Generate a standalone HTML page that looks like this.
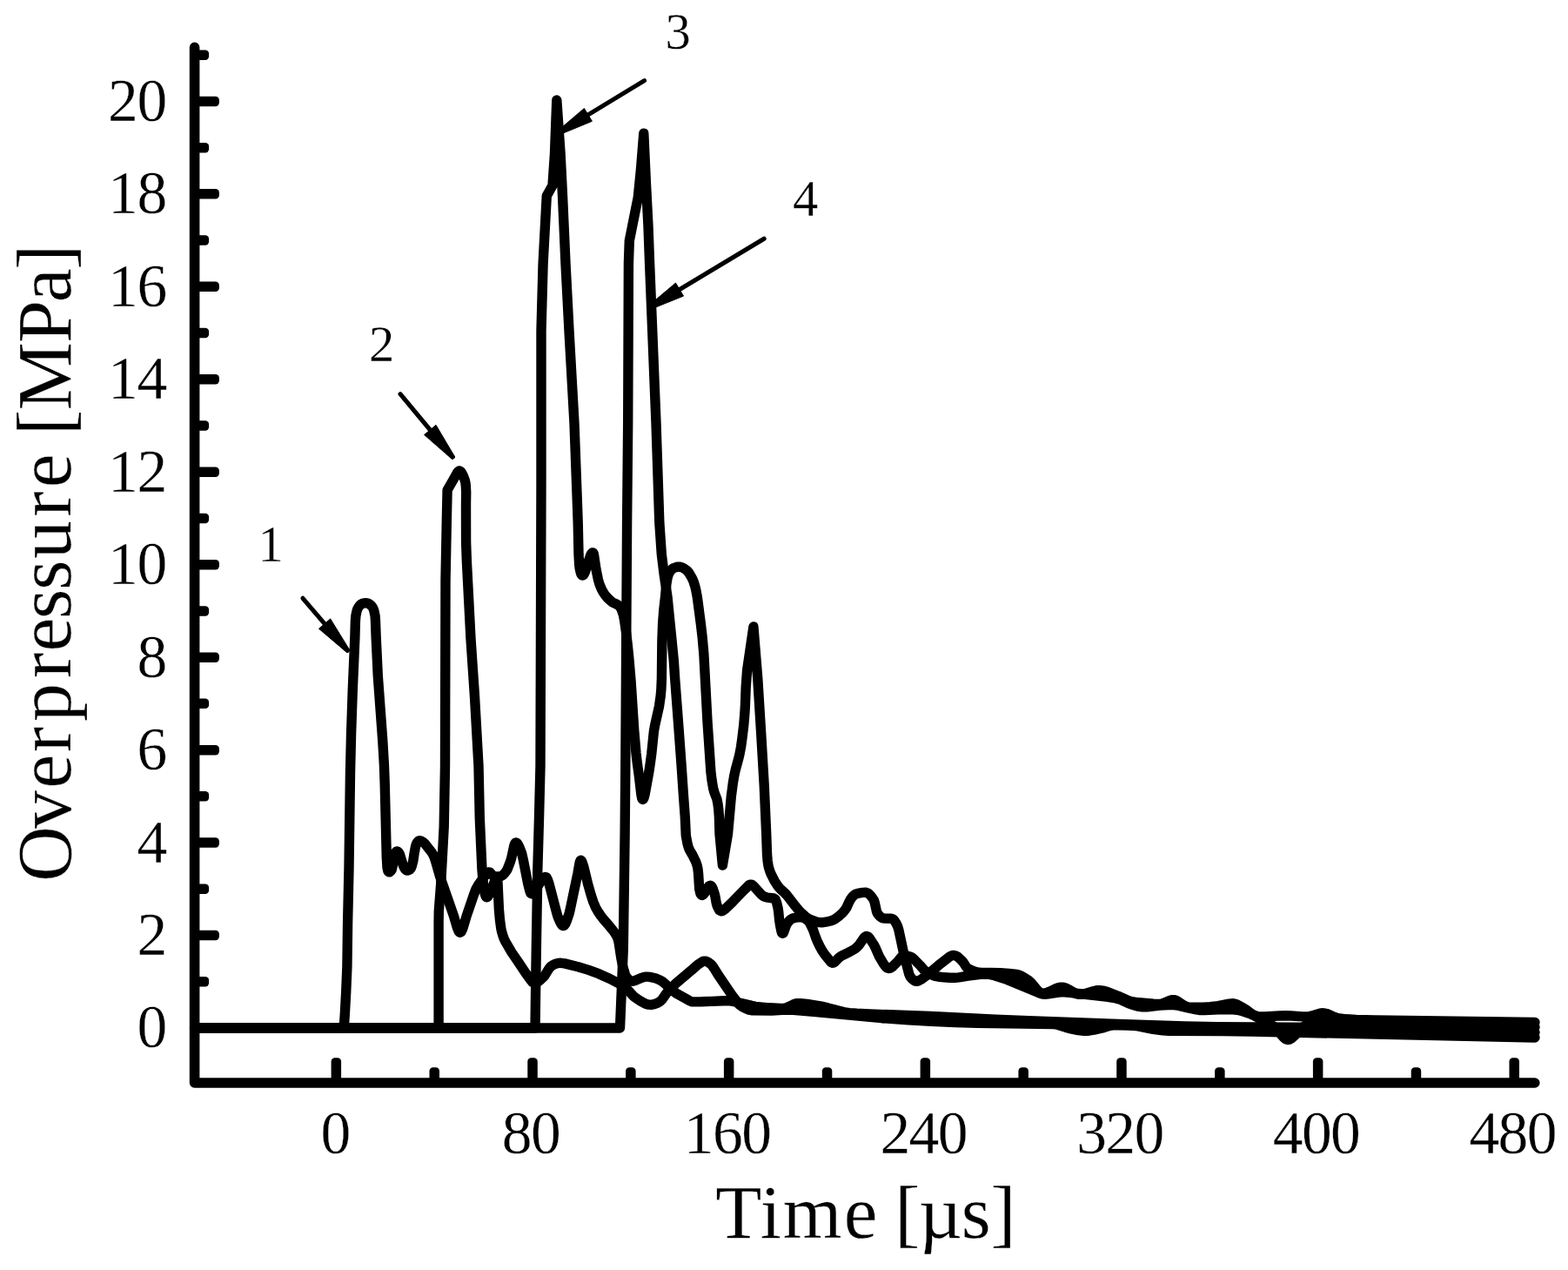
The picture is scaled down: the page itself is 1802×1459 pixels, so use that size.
<!DOCTYPE html>
<html lang="en"><head><meta charset="utf-8"><title>Overpressure vs. time</title>
<style>html,body{margin:0;padding:0;background:#fff}body{width:1802px;height:1459px;overflow:hidden}svg{display:block}text{font-family:"Liberation Serif",serif;fill:#000;stroke:#fff;stroke-width:0.3px}</style>
</head><body>
<svg width="1802" height="1459" viewBox="0 0 1802 1459">
<rect width="1802" height="1459" fill="#fff"/>
<g fill="none" stroke="#000" stroke-width="11.6" stroke-linecap="round" stroke-linejoin="round">
<path d="M223.6,54.4 L223.6,1244 L1763.8,1244"/>
</g>
<g fill="#000">
<rect x="223.6" y="1122" width="16.5" height="11.5" rx="4.2"/>
<rect x="223.6" y="1068.8" width="28.3" height="11.5" rx="4.2"/>
<rect x="223.6" y="1015.6" width="16.5" height="11.5" rx="4.2"/>
<rect x="223.6" y="962.3" width="28.3" height="11.5" rx="4.2"/>
<rect x="223.6" y="909.1" width="16.5" height="11.5" rx="4.2"/>
<rect x="223.6" y="855.9" width="28.3" height="11.5" rx="4.2"/>
<rect x="223.6" y="802.6" width="16.5" height="11.5" rx="4.2"/>
<rect x="223.6" y="749.4" width="28.3" height="11.5" rx="4.2"/>
<rect x="223.6" y="696.2" width="16.5" height="11.5" rx="4.2"/>
<rect x="223.6" y="643" width="28.3" height="11.5" rx="4.2"/>
<rect x="223.6" y="589.7" width="16.5" height="11.5" rx="4.2"/>
<rect x="223.6" y="536.5" width="28.3" height="11.5" rx="4.2"/>
<rect x="223.6" y="483.3" width="16.5" height="11.5" rx="4.2"/>
<rect x="223.6" y="430" width="28.3" height="11.5" rx="4.2"/>
<rect x="223.6" y="376.8" width="16.5" height="11.5" rx="4.2"/>
<rect x="223.6" y="323.6" width="28.3" height="11.5" rx="4.2"/>
<rect x="223.6" y="270.3" width="16.5" height="11.5" rx="4.2"/>
<rect x="223.6" y="217.1" width="28.3" height="11.5" rx="4.2"/>
<rect x="223.6" y="163.9" width="16.5" height="11.5" rx="4.2"/>
<rect x="223.6" y="110.7" width="28.3" height="11.5" rx="4.2"/>
<rect x="223.6" y="57.4" width="16.5" height="11.5" rx="4.2"/>
<rect x="380.6" y="1215.3" width="11.5" height="28.7" rx="4.2"/>
<rect x="493.5" y="1226.3" width="11.5" height="17.7" rx="4.2"/>
<rect x="606.3" y="1215.3" width="11.5" height="28.7" rx="4.2"/>
<rect x="719.1" y="1226.3" width="11.5" height="17.7" rx="4.2"/>
<rect x="831.9" y="1215.3" width="11.5" height="28.7" rx="4.2"/>
<rect x="944.8" y="1226.3" width="11.5" height="17.7" rx="4.2"/>
<rect x="1057.6" y="1215.3" width="11.5" height="28.7" rx="4.2"/>
<rect x="1170.4" y="1226.3" width="11.5" height="17.7" rx="4.2"/>
<rect x="1283.2" y="1215.3" width="11.5" height="28.7" rx="4.2"/>
<rect x="1396.1" y="1226.3" width="11.5" height="17.7" rx="4.2"/>
<rect x="1508.9" y="1215.3" width="11.5" height="28.7" rx="4.2"/>
<rect x="1621.7" y="1226.3" width="11.5" height="17.7" rx="4.2"/>
<rect x="1734.5" y="1215.3" width="11.5" height="28.7" rx="4.2"/>
</g>
<g fill="none" stroke="#000" stroke-width="11.4" stroke-linecap="round" stroke-linejoin="round">
<path d="M223.6,1181 L395.2,1181 L396.3,1165.5 L397.7,1139.6 L398.9,1111.1 L399.6,1060.5 L401,997.5 L402.5,888 L403.6,841.9 L405.3,792.4 L407.9,732 L408.4,713.5 L408.9,707.5 L409.9,702.6 L410.6,700.2 L411.7,697.9 L413.1,695.9 L414.6,694.5 L416.3,693.5 L418.1,692.9 L420.1,692.7 L422.1,692.9 L423.9,693.6 L425.6,694.7 L427,696.1 L428.2,697.7 L429.1,699.5 L429.9,701.8 L431.1,707.7 L431.5,713.7 L432.2,732.7 L434.3,776.7 L439.8,851.5 L441.4,878.5 L442.2,900 L444.3,985 L445,996.5 L445.8,1000.4 L446.2,1001.2 L446.8,1001.8 L447.5,1001.9 L448.7,1001.1 L449.6,1000 L450.3,998.7 L451.1,995.3 L453.5,982 L454.2,980.2 L454.9,978.9 L455.6,978.2 L456.3,978 L457.1,978.2 L457.8,978.9 L459.4,981.4 L463.2,993.8 L464.6,997 L466.1,999 L467.2,999.8 L468.1,1000.1 L469.5,999.8 L470.8,999.1 L471.8,998 L472.6,996.8 L473.3,994.9 L474.8,989.1 L476.2,979.7 L477.5,972.8 L478.3,970 L479.1,968.2 L480.7,966.3 L481.5,965.8 L482.4,965.7 L483.8,966 L485.1,966.7 L486.8,967.9 L488.3,969.2 L496,979 L497.6,981.5 L498.9,984.3 L500.6,989.5 L505.6,1006.8 L521.4,1052.1 L525.7,1066.5 L527.3,1070.1 L527.9,1070.8 L528.6,1071.2 L529.4,1071 L530.1,1070.4 L531.4,1067.8 L532.7,1064 L536.1,1052.5 L544.5,1027.9 L547,1021.4 L549.7,1016.6 L558.4,1004.4 L559.7,1002.9 L560.9,1002.1 L562.2,1001.9 L563.1,1002.3 L566.7,1006.3 L567.5,1006.8 L568.9,1007 L573.9,1007 L575.8,1006.6 L577.9,1005.2 L580.4,1002.7 L581.9,1000.7 L583.1,998.6 L586.4,990.2 L587.7,985.9 L590.8,971.7 L591.6,969.4 L592.4,968.2 L593.1,968 L593.8,968.3 L594.5,968.9 L595.4,970.2 L597.3,974.2 L599.6,980.3 L601.5,988.6 L606.7,1015.1 L608.8,1023.3 L609.8,1026.1 L610.3,1026.7 L611.1,1026.8 L611.9,1026.5 L613,1025.5 L622.7,1010.9 L624.6,1008.6 L625.8,1007.7 L626.6,1007.5 L627.5,1007.7 L628.2,1008.2 L629.5,1010.8 L631.1,1015.6 L639.7,1048.5 L641,1052.8 L642.5,1056.5 L644.6,1061 L645.7,1062.7 L646.7,1063.6 L647.6,1063.6 L648.3,1063.3 L649.8,1061.3 L651.7,1056.7 L654.1,1049.6 L655.4,1044.2 L664,1003.1 L666.2,990.8 L667,988.6 L667.5,988.3 L667.8,988.5 L668.4,989.1 L669,990.4 L670.8,995.6 L675.6,1015.5 L679.3,1028.5 L681.8,1036.1 L684.5,1042.5 L687.2,1047.3 L690.6,1052.3 L693.7,1056.2 L699.9,1063.3 L705.3,1070 L708.3,1074.6 L709.8,1077.7 L711,1082 L713.8,1100.3 L715.8,1110.6 L718.4,1119.2 L719.4,1121.5 L720.5,1123.2 L722.2,1125 L723.7,1126.3 L725,1127 L726.4,1127.2 L727.9,1127.1 L729.8,1126.6 L738.1,1123.1 L740,1122.5 L742,1122.1 L744,1122.1 L746.9,1122.4 L751.8,1123.5 L754.7,1124.3 L758.8,1126.2 L761.8,1128 L774.2,1138.9 L777.8,1141.6 L792.2,1149.6 L794,1150.4 L795.4,1150.8 L797.9,1150.9 L805.9,1150.8 L817.4,1150.4 L831.9,1149.7 L837.9,1149.7 L843.8,1150.7 L853.1,1152.7 L863.8,1155.4 L868.2,1156.3 L884.1,1157.8 L897.6,1158.5 L901.1,1158.4 L903.5,1157.8 L905.8,1156.9 L911.6,1154 L914.5,1153 L916.4,1152.7 L919.4,1152.7 L927.4,1153.5 L942.7,1155.9 L951.5,1157.9 L961.6,1160.6 L972.3,1163.2 L976.3,1163.7 L984.7,1164.3 L999.2,1165 L1069.7,1167.4 L1144.1,1171.1 L1182.1,1172.8 L1361,1179 L1398.5,1179.8 L1533,1180.4 L1628,1180.5 L1764,1180"/>
<path d="M223.6,1181 L504.1,1181 L504.1,1060 L504.3,1047 L506.6,1016.6 L510.2,950 L511.5,880 L512,667 L513.3,600 L514.1,563 L521.6,550 L525.5,543 L526.4,541.8 L527.5,541 L528.4,541 L529.5,541.7 L530.7,543.3 L532.1,546 L534.2,551.6 L534.9,554.5 L535.3,557.5 L535.7,565.5 L535.5,580 L535.6,623 L536.4,645 L541,733.7 L545.5,800 L550,880 L551.3,940 L553.3,984.4 L554,999.4 L554.9,1010.4 L556.5,1023.8 L557.1,1026.2 L558,1029 L558.6,1030.3 L559.3,1030.7 L559.6,1030.7 L560.3,1030.3 L561.2,1029.2 L563.4,1025.3 L565.3,1021.2 L569.6,1008.9 L570.3,1008.1 L570.5,1008.2 L571,1008.7 L571.6,1011 L572,1014 L573.4,1044.5 L574.5,1056.9 L575.9,1067.3 L576.7,1070.7 L578,1075 L579.2,1078.3 L580.7,1081.5 L587.7,1093.6 L596.2,1106 L603.9,1117.7 L610.1,1126.2 L611.7,1128.1 L613.3,1129.1 L614.3,1129.3 L615.2,1129.2 L617.5,1128.3 L620.4,1126.3 L624.1,1122.9 L625.8,1121.1 L630.5,1113.4 L631.9,1111.4 L633.4,1110 L635.5,1108.7 L638.6,1107.2 L641.5,1106.4 L644.5,1106.3 L648.9,1106.9 L664.5,1110.7 L676.4,1114.4 L688.1,1118.7 L700.5,1124.2 L711.5,1130 L717.9,1134 L720.9,1136.6 L728,1144.3 L729.9,1145.9 L733.7,1148.5 L737,1150.6 L740.1,1152.3 L742.8,1153.5 L745.2,1154.1 L748.2,1154.3 L751.7,1153.7 L755.8,1152.1 L758.8,1150.3 L760.9,1148.2 L764.9,1142.4 L767.1,1139.7 L772.5,1133.8 L777.2,1129.3 L795.2,1114.2 L801.9,1108.2 L806.9,1104.9 L808.8,1104.2 L810.2,1104.1 L812.1,1104.6 L814.3,1105.7 L817.2,1107.8 L818.8,1109.7 L820.5,1112.1 L825.2,1119.8 L840.4,1142.1 L847,1150.9 L849.6,1154 L852.3,1156.2 L856.7,1158.5 L860.9,1160.2 L864.8,1160.9 L886.8,1161 L902.8,1160 L911.8,1160.2 L935.2,1162.2 L1013.4,1169.7 L1043.8,1171.9 L1070.2,1173.4 L1097.7,1174.5 L1123.2,1175.2 L1210.7,1176.5 L1213.2,1176.8 L1216.1,1177.5 L1225.2,1180.4 L1228.5,1181.3 L1239.3,1183.6 L1245.8,1184.4 L1250.8,1184.2 L1257.2,1183.2 L1266.9,1181 L1274.6,1178.6 L1277.5,1178 L1280,1177.7 L1285,1177.7 L1297,1178.1 L1305,1178.5 L1310.4,1179.4 L1325.1,1182.4 L1336.5,1183.9 L1343.5,1184.4 L1405,1184.6 L1439.5,1185.1 L1764,1192"/>
<path d="M223.6,1181 L615,1181 L616,1110 L617.8,1000 L619.5,940 L621,880 L622,556 L622,380 L624.1,303 L628.3,225 L635,213 L637.5,176.6 L639.8,115 L644.1,176.6 L646.6,226.6 L650,303 L654,380 L660,486 L662.6,556 L664.2,600 L665,636.6 L665.7,649.1 L666.2,653.1 L667.1,657 L667.8,659.3 L668.5,660.6 L669.2,661 L669.6,661 L670.3,660.6 L671,659.9 L672.5,656.8 L677.4,641.5 L679,637.3 L679.7,636 L680.7,635 L681.4,634.9 L681.9,635.3 L682.4,636.7 L682.8,639.1 L685,654 L687.4,665.7 L688.9,671 L691.4,677 L693.1,680.1 L695,683 L697.5,686.1 L700,688.6 L703.8,691.8 L709.6,694.7 L711.3,695.8 L712.3,696.9 L713.4,698.5 L714.3,700.3 L716.3,706 L717.7,713.3 L719.7,727.7 L721.3,741.1 L722.9,757 L725.1,783 L728.7,838.4 L731,865.3 L732.2,875.7 L734.5,892.6 L736.9,912.9 L737.8,917.3 L738.1,918.1 L738.7,918.4 L739.2,918.1 L739.9,916.9 L741.1,912.6 L745.7,887.5 L747.2,877.6 L748.8,865.7 L751.4,840.3 L752.7,832.9 L757.5,811.4 L759.2,799.6 L759.9,791.6 L760.4,779.6 L760.9,735.6 L761.6,716.6 L762.8,700.6 L764.5,685.7 L765.9,670.8 L766.8,665.3 L767.6,661.9 L768.6,659.1 L769.8,656.9 L771.3,654.9 L772.7,653.5 L774.4,652.5 L777.2,651.5 L779.7,651.1 L781.6,651.2 L784,651.9 L786.2,653.1 L789.1,655.1 L790.5,656.5 L792,658.5 L795.3,664.1 L797.1,668.2 L798.6,673 L799.7,677.4 L800.9,683.7 L801.9,690.2 L805.4,717 L807.2,732.4 L808.9,751.8 L813,828.7 L816.9,886.6 L818.1,896.5 L819.6,905.4 L820.9,910.2 L823.8,917.7 L825,923.6 L825.8,930 L826.4,938.5 L827,958 L830.4,994 L836.5,958 L840.4,914.3 L842.3,899.9 L843.7,891.5 L845.1,885.1 L848.6,872.1 L850,866.2 L851.6,857.8 L853,847.4 L854.8,832.5 L855.9,819 L856.4,810.5 L857.2,789.5 L858.6,770 L865.9,720 L870.8,780 L874.6,841 L878.2,902 L880.7,958 L881.5,981 L882.1,988.5 L882.7,992.9 L883.4,996.4 L884.6,1000.2 L886,1003.9 L890.3,1012.4 L894.2,1018.2 L896.8,1021.2 L902.3,1026.3 L904.4,1028.5 L914.2,1041.2 L917.4,1045 L919.8,1047.6 L924.9,1052.3 L928.5,1055 L931.6,1056.6 L937.2,1058.7 L941.1,1059.6 L944.6,1059.8 L949.1,1059.2 L954.4,1058 L957.7,1056.9 L960.7,1055.1 L965.1,1051.7 L968.4,1048.6 L970.9,1045.6 L972.9,1042.7 L976.2,1035.4 L977.4,1033.2 L979.8,1030 L982,1028 L983.3,1027.2 L985.1,1026.6 L988.6,1025.8 L991.5,1025.4 L995,1025.3 L996.4,1025.7 L997.8,1026.3 L999.3,1027.6 L1001,1029.4 L1002.8,1031.8 L1004.4,1034.3 L1005.3,1037.2 L1007.5,1047.4 L1008.6,1049.6 L1010.5,1052 L1012.3,1053.7 L1014.5,1054.8 L1017,1055.1 L1024,1055.3 L1025.9,1055.8 L1026.7,1056.3 L1027.7,1057.3 L1029.9,1060.7 L1031.6,1064.3 L1032.8,1068.1 L1039.1,1097.5 L1044.8,1119.2 L1046,1121.9 L1047.9,1124.3 L1050.2,1126.2 L1052.4,1127.2 L1053.9,1127.3 L1055.3,1126.9 L1058.4,1125.3 L1064.9,1120.6 L1078.2,1109.3 L1090.4,1099.7 L1093.4,1097.9 L1094.9,1097.5 L1096.3,1097.4 L1098.2,1097.9 L1100,1098.8 L1102,1100.4 L1104.9,1103.1 L1106.9,1105.3 L1110.4,1110.8 L1111.8,1112.2 L1115.7,1114.3 L1119.9,1116 L1123.3,1116.8 L1126.8,1117.2 L1149.8,1117.8 L1159.7,1118.4 L1168.7,1119.5 L1171.1,1120.1 L1173,1120.8 L1176.9,1122.9 L1182.4,1126.5 L1185.2,1129.2 L1191,1136.2 L1193.4,1138.7 L1195.8,1140.5 L1197.1,1141 L1198.1,1141.2 L1200.6,1141 L1203.5,1140.3 L1206.3,1139.1 L1213,1135.9 L1215.8,1134.8 L1218.2,1134.2 L1220.7,1134.1 L1222.7,1134.4 L1225.1,1135.2 L1227.7,1136.5 L1235.5,1141 L1237.8,1141.9 L1240.3,1142.4 L1242.8,1142.4 L1245.7,1141.9 L1256.3,1138.7 L1260.2,1137.8 L1263.6,1137.6 L1267.6,1138.1 L1272.9,1139.6 L1285,1144.3 L1295.1,1148.8 L1298.3,1150.1 L1302.2,1151 L1308.7,1151.8 L1325.6,1153.2 L1333.1,1153.4 L1335.1,1153.1 L1337,1152.6 L1345.3,1149.1 L1347.3,1148.7 L1349.2,1148.7 L1351.2,1149.1 L1353.4,1150.2 L1360.5,1154.9 L1363.2,1156.3 L1365.5,1157 L1368,1157.2 L1383,1157.2 L1390.5,1156.7 L1400,1155.7 L1412.7,1153.1 L1415.7,1152.8 L1417.7,1152.9 L1419.6,1153.3 L1422,1154.2 L1429.4,1158.3 L1432,1159.9 L1437.6,1164 L1440.2,1165.6 L1444.3,1167.4 L1447.2,1168 L1453.2,1167.9 L1470.2,1167 L1477.7,1166.8 L1483.7,1167 L1497.2,1167.9 L1502.7,1168 L1504.6,1167.7 L1507.1,1167.2 L1516.2,1164.4 L1518.6,1163.9 L1520.6,1163.8 L1523.1,1164.1 L1525.5,1164.8 L1533.7,1168.4 L1537.5,1169.7 L1547,1170.8 L1558.4,1171.5 L1579.4,1172 L1764,1174.5"/>
<path d="M223.6,1181 L712.5,1181 L716.3,1090 L718.1,960 L718.8,880 L720.6,600 L721.7,486 L722.4,303 L723.3,276.6 L726.6,260 L733.3,226.6 L736.6,193.3 L739.8,153.2 L742.4,210 L745,260 L746.6,303 L754,486 L757.8,600 L760.3,636.6 L763.3,661 L767,685.5 L769.4,709.9 L771.9,734.3 L774.3,758.7 L775.7,780 L779.4,828.8 L783,877.7 L785.5,914.3 L787.3,938.7 L788.3,960 L790.2,969.8 L791.3,973.7 L792.7,976.9 L796,982.5 L799.3,989.2 L800.4,992 L801.3,994.9 L802,998.3 L802.6,1003.8 L803.7,1021.2 L804.8,1026.1 L805.4,1027.4 L806,1028.1 L806.7,1028.5 L807.1,1028.4 L807.9,1028 L808.6,1027.4 L810.1,1025.4 L813.1,1020.2 L814.6,1018.2 L815.3,1017.6 L816.2,1017.3 L817.4,1017.8 L818.2,1018.9 L819.1,1020.7 L821.2,1026.8 L821.9,1029.8 L823.3,1037.7 L824.3,1041 L825.8,1044.1 L826.9,1045.8 L828.1,1046.6 L829.4,1046.8 L831.2,1046 L833.6,1044.2 L842.2,1035.8 L854.7,1022.9 L860.8,1016.9 L861.6,1016.4 L862.4,1016.1 L863.4,1016.1 L864.3,1016.4 L866.2,1018 L874.5,1027.3 L876.8,1029.2 L879,1030.2 L881.9,1031.1 L889.3,1032 L890.2,1032.3 L891.2,1033.4 L892.6,1037.1 L894.1,1043.4 L894.7,1047.3 L895.6,1056.8 L896.6,1063.2 L897.9,1069.6 L898.5,1071.5 L899,1072.1 L899.3,1072.3 L900,1072.1 L900.7,1071 L903.3,1063.4 L904.4,1061.2 L906.8,1058 L909,1056 L910.8,1055.1 L913.2,1054.5 L916.2,1053.9 L919.1,1053.6 L922.1,1053.9 L923.5,1054.4 L925.3,1055.3 L927.8,1057 L929.2,1058.3 L930.2,1059.5 L931.4,1061.7 L934.4,1068 L937.5,1077 L939,1080.7 L942,1087 L944.6,1091.8 L948.3,1097.2 L954,1104.2 L955.4,1105.6 L956.6,1106.2 L958,1106 L959.2,1105.2 L963.8,1100.5 L966.1,1098.7 L968.7,1097.3 L976.8,1093.4 L981.2,1090.9 L983.7,1089.2 L985.5,1087.5 L987.5,1085.3 L993.2,1077.1 L994.7,1075.8 L995.6,1075.5 L996.5,1075.6 L997.8,1076.2 L999.5,1078 L1004.4,1085.5 L1006.2,1089.1 L1010.6,1099.2 L1015.2,1106.9 L1017,1109.3 L1018.3,1110.9 L1019.4,1111.8 L1020.7,1112.4 L1021.7,1112.5 L1023.1,1112.2 L1025.6,1110.6 L1032,1104.3 L1035.4,1100 L1036.8,1098.6 L1037.6,1098.1 L1038.6,1097.8 L1041,1097.9 L1045.4,1098.8 L1046.8,1099.3 L1048.1,1100 L1051.1,1102.6 L1057.4,1109.1 L1061.7,1114 L1063.9,1116 L1065.9,1117.4 L1069,1119.1 L1071.8,1120.3 L1074.6,1121.3 L1078,1122 L1085,1122.8 L1091.5,1123.2 L1097,1123.3 L1101.9,1122.8 L1112.3,1121.2 L1126.7,1119.3 L1132.7,1119 L1137.2,1119.4 L1143,1120.8 L1154.9,1124.6 L1193.7,1140.6 L1196.1,1141.5 L1198,1142 L1200,1142.2 L1203,1142 L1216.3,1140 L1219.8,1139.8 L1223.3,1139.9 L1229.3,1140.3 L1253.7,1143 L1271.5,1145.2 L1279.5,1146.3 L1285.3,1147.6 L1289.1,1149 L1296.8,1152.6 L1300.5,1154 L1308.2,1156.2 L1312.6,1156.9 L1318.1,1156.8 L1332.5,1155.1 L1342.5,1154.6 L1349,1154.5 L1354,1155.1 L1365.6,1158 L1374.9,1159.9 L1379.4,1160.5 L1384.4,1160.5 L1399.9,1159.8 L1416.9,1159.8 L1421.9,1160.3 L1428.2,1161.8 L1437.2,1164.8 L1440.3,1166.3 L1460.2,1176.9 L1463.6,1179 L1466,1180.8 L1468.4,1183.4 L1473.3,1189.7 L1475.3,1191.9 L1477.6,1193.8 L1479.5,1194.4 L1480.4,1194.5 L1481.9,1194.2 L1483.2,1193.5 L1484.9,1192.4 L1494.1,1184 L1499,1179 L1501.5,1177.3 L1505.7,1175.7 L1510.5,1174.3 L1514.9,1173.4 L1518.8,1173 L1526.3,1173.3 L1542.2,1175.2 L1553.7,1176.2 L1599.6,1179 L1654.6,1181.6 L1764,1186"/>
</g>
<g stroke="#000" fill="#000">
<line x1="348" y1="687.3" x2="399.4" y2="747.4" stroke-width="5.1" stroke-linecap="round"/>
<polygon stroke-width="1" stroke-linejoin="round" points="402,747.2 398.9,749.8 366.5,722.3 379.7,710.9"/>
<line x1="460" y1="452.6" x2="520.2" y2="525.1" stroke-width="5.1" stroke-linecap="round"/>
<polygon stroke-width="1" stroke-linejoin="round" points="522.7,524.9 519.6,527.5 487.6,499.5 501,488.3"/>
<line x1="740.5" y1="92.6" x2="641.3" y2="152.9" stroke-width="5.1" stroke-linecap="round"/>
<polygon stroke-width="1" stroke-linejoin="round" points="641.1,155.5 639,152 671.4,124.5 680.4,139.3"/>
<line x1="878.1" y1="274.3" x2="746.3" y2="353.4" stroke-width="5.1" stroke-linecap="round"/>
<polygon stroke-width="1" stroke-linejoin="round" points="746,356 743.9,352.5 776.5,325.1 785.5,340.1"/>
</g>
<text x="192.2" y="1203.4" font-size="69.5" text-anchor="end">0</text>
<text x="192.2" y="1096.9" font-size="69.5" text-anchor="end">2</text>
<text x="192.2" y="990.5" font-size="69.5" text-anchor="end">4</text>
<text x="192.2" y="884" font-size="69.5" text-anchor="end">6</text>
<text x="192.2" y="777.6" font-size="69.5" text-anchor="end">8</text>
<text x="191" y="671.1" font-size="69.5" text-anchor="end" letter-spacing="-1.2">10</text>
<text x="191" y="564.6" font-size="69.5" text-anchor="end" letter-spacing="-1.2">12</text>
<text x="191" y="458.2" font-size="69.5" text-anchor="end" letter-spacing="-1.2">14</text>
<text x="191" y="351.7" font-size="69.5" text-anchor="end" letter-spacing="-1.2">16</text>
<text x="191" y="245.3" font-size="69.5" text-anchor="end" letter-spacing="-1.2">18</text>
<text x="191" y="138.8" font-size="69.5" text-anchor="end" letter-spacing="-1.2">20</text>
<text x="385.9" y="1324.5" font-size="69.5" text-anchor="middle">0</text>
<text x="609.9" y="1324.5" font-size="69.5" text-anchor="middle" letter-spacing="-1.6">80</text>
<text x="835.6" y="1324.5" font-size="69.5" text-anchor="middle" letter-spacing="-1.6">160</text>
<text x="1061.2" y="1324.5" font-size="69.5" text-anchor="middle" letter-spacing="-1.6">240</text>
<text x="1286.9" y="1324.5" font-size="69.5" text-anchor="middle" letter-spacing="-1.6">320</text>
<text x="1512.5" y="1324.5" font-size="69.5" text-anchor="middle" letter-spacing="-1.6">400</text>
<text x="1738.2" y="1324.5" font-size="69.5" text-anchor="middle" letter-spacing="-1.6">480</text>
<text x="822.2 873.8 899.7 969.7 1008.3 1028.2 1055.8 1104.7 1138.5" y="1422" font-size="87" stroke-width="0.4">Time [µs]</text>
<text transform="translate(80.6,1016) rotate(-90)" x="3.2 63.9 110.3 151.7 186.9 237 267.4 304.9 338.3 374 422.2 455.7 494.8 515.9 544.5 622.1 668.8 705.9" y="0" font-size="88" stroke-width="0.4">Overpressure [MPa]</text>
<text x="311" y="645" font-size="58.5" text-anchor="middle">1</text>
<text x="438.6" y="414.7" font-size="58.5" text-anchor="middle">2</text>
<text x="779.2" y="55.6" font-size="58.5" text-anchor="middle">3</text>
<text x="925.5" y="248" font-size="58.5" text-anchor="middle">4</text>
</svg>
</body></html>
